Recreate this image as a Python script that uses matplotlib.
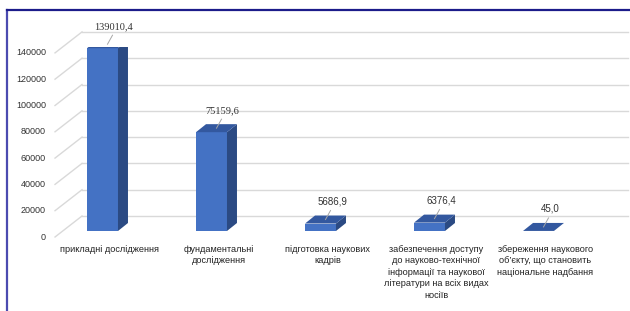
import matplotlib
matplotlib.use('Agg')
import matplotlib.pyplot as plt
from matplotlib.patches import Polygon
from matplotlib.lines import Line2D

# data
categories = [
    'прикладні дослідження',
    'фундаментальні\nдослідження',
    'підготовка наукових\nкадрів',
    'забезпечення доступу\nдо науково-технічної\nінформації та наукової\nлітератури на всіх видах\nносіїв',
    'збереження наукового\nоб’єкту, що становить\nнаціональне надбання',
]
values = [139010.4, 75159.6, 5686.9, 6376.4, 45.0]
value_labels = ['139010,4', '75159,6', '5686,9', '6376,4', '45,0']
label_serif = [True, True, False, False, False]
yticks = [0, 20000, 40000, 60000, 80000, 100000, 120000, 140000]

FRONT = '#4472C4'
SIDE = '#2B4A83'
TOP = '#33589F'
GRID = '#D9D9D9'

fig = plt.figure(figsize=(6.3, 3.11), dpi=100)
ax = fig.add_axes([48 / 630, 80 / 311, 545 / 630, 184.1 / 311])
ax.set_xlim(-0.5, 4.5)
ax.set_ylim(0, 140000)
ax.axis('off')

# pixels per data unit
sx = ax.bbox.width / 5.0
sy = ax.bbox.height / 140000.0

# pseudo 3d offsets in pixels (relative to the bar front plane)
front_off = (-7.7, -6)
back_off = (19.3, 15)
depth = (10, 8)
wall_x = -0.365
grid_right = 4.644
bar_w = 0.284

def px(dx, dy):
    return dx / sx, dy / sy

# back wall gridlines and side wall diagonals
for v in yticks:
    bx, by = px(*back_off)
    fx, fy = px(*front_off)
    ax.add_line(Line2D([wall_x + bx, grid_right + bx], [v + by, v + by],
                       color=GRID, lw=1.0, clip_on=False, zorder=1))
    ax.add_line(Line2D([wall_x + fx, wall_x + bx], [v + fy, v + by],
                       color=GRID, lw=1.0, clip_on=False, zorder=1))
    ax.annotate(str(v), (wall_x, v), xytext=(front_off[0] - 9, front_off[1]),
                textcoords='offset pixels', ha='right', va='center',
                fontsize=6.5, family='Liberation Sans', color='#333333')

# bars
x = list(range(len(values)))
ddx, ddy = px(*depth)
for i, v in zip(x, values):
    l, r = i - bar_w / 2, i + bar_w / 2
    if v > 500:
        ax.bar(i, v, width=bar_w, color=FRONT, zorder=3)
        ax.add_patch(Polygon([(r, 0), (r + ddx, ddy), (r + ddx, v + ddy), (r, v)],
                             closed=True, color=SIDE, zorder=3, lw=0))
    ax.add_patch(Polygon([(l, v), (r, v), (r + ddx, v + ddy), (l + ddx, v + ddy)],
                         closed=True, color=TOP, zorder=4, lw=0))

# value labels with leader lines
for i, v, lab, serif in zip(x, values, value_labels, label_serif):
    cx, cy = px(5, 4)
    lx, ly = px(10, 13)
    ax.add_line(Line2D([i + cx, i + lx], [v + cy, v + ly], color='#A6A6A6',
                       lw=0.7, zorder=5, clip_on=False))
    if serif:
        ax.annotate(lab, (i, v), xytext=(11, 21), textcoords='offset pixels',
                    ha='center', va='center', fontsize=7.5,
                    family='Liberation Serif', color='#333333')
    else:
        ax.annotate(lab, (i, v), xytext=(12, 22), textcoords='offset pixels',
                    ha='center', va='center', fontsize=7,
                    family='Liberation Sans', color='#333333')

# category labels
for i, cat in zip(x, categories):
    ax.annotate(cat, (i, 0), xytext=(7, -14), textcoords='offset pixels',
                ha='center', va='top', fontsize=6.6, family='Liberation Sans',
                color='#222222', linespacing=1.35)

# frame of the cropped chart
fig.add_artist(Line2D([7 / 630, 7 / 630], [0, 1 - 10 / 311],
                      transform=fig.transFigure, color='#4B4BB0', lw=1.6))
fig.add_artist(Line2D([7 / 630, 1], [1 - 10 / 311, 1 - 10 / 311],
                      transform=fig.transFigure, color='#1C1C8A', lw=1.6))

fig.savefig('out.png', dpi=100)
